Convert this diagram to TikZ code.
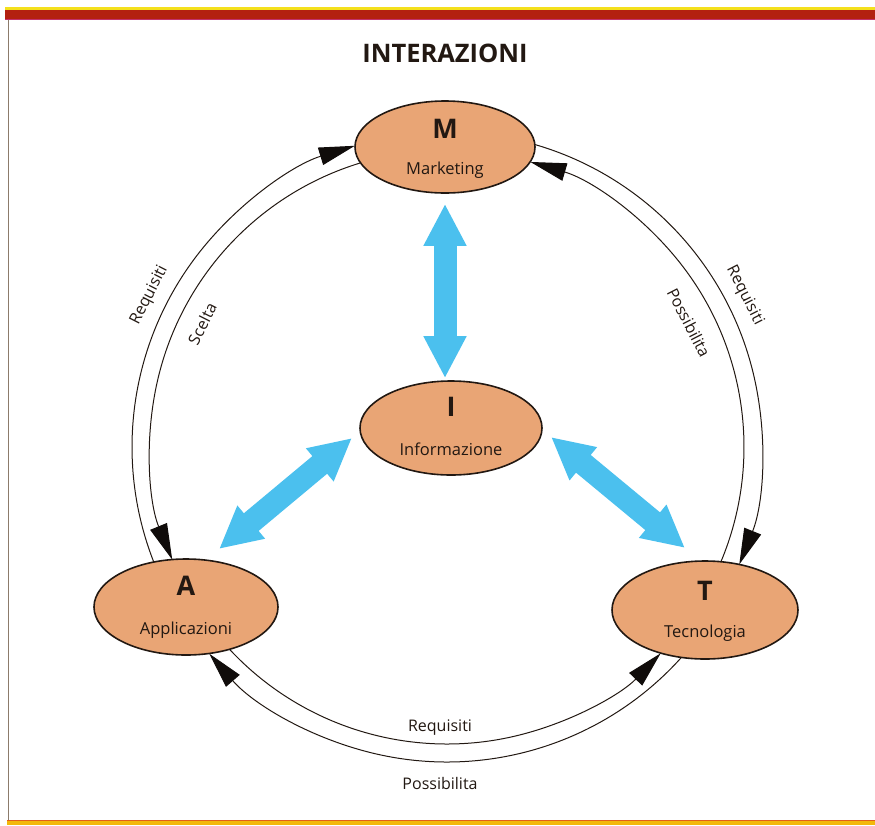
\documentclass[tikz,border=0pt]{standalone}
\usepackage{fontspec}
\setmainfont{Open Sans}
\usetikzlibrary{shapes.geometric,arrows.meta,calc}
\definecolor{bub}{HTML}{E9A575}
\definecolor{ink}{HTML}{221812}
\definecolor{tipcol}{HTML}{100C0A}
\definecolor{sky}{HTML}{4BC0EE}
\definecolor{barred}{HTML}{B3200F}
\definecolor{baryel}{HTML}{F4E01C}
\definecolor{barmag}{HTML}{C2306A}
\definecolor{framecol}{HTML}{8C7B6B}
\definecolor{botbar}{HTML}{F3B80A}
\definecolor{botline}{HTML}{E0601A}
\pgfdeclarelayer{bg}
\pgfsetlayers{bg,main}
\begin{document}
\begin{tikzpicture}[x=1pt,y=1pt,
  bubble/.style={ellipse, draw=ink, line width=1.6pt, fill=bub, inner sep=0pt},
  letter/.style={font=\fontsize{27}{27}\selectfont\bfseries, text=ink, inner sep=0pt, anchor=base},
  sub/.style={font=\fontsize{16.5}{17}\selectfont, text=ink, inner sep=0pt, anchor=base},
  arclab/.style={font=\fontsize{16}{16}\selectfont, text=ink, inner sep=0pt},
  flow/.style={draw=ink, line width=1pt, -{Triangle[length=36pt,width=18pt,color=tipcol]}},
  fat/.style={draw=sky, line width=23pt, {Triangle[length=42pt,width=40pt]}-{Triangle[length=42pt,width=40pt]}}
]
\useasboundingbox (0,0) rectangle (875,-825);
% frame and bars
\fill[baryel] (5,-7) rectangle (875,-9.5);
\fill[barred] (5,-9.5) rectangle (875,-19);
\fill[barmag] (5,-19) rectangle (875,-20.3);
\draw[framecol, line width=1.6pt] (8.5,-20) -- (8.5,-821);
\fill[botline] (7,-820) rectangle (875,-821.3);
\fill[botbar] (7,-821.3) rectangle (875,-825);
% title
\node[anchor=base, font=\fontsize{25.5}{26}\selectfont\bfseries, text=ink, inner sep=0pt] (title) at (445,-62) {INTERAZIONI};
% centre of the ring
\coordinate (c) at (447,-447);
% nodes
\node[bubble, minimum width=180pt, minimum height=92pt] (M) at (445,-147) {};
\node[bubble, minimum width=182pt, minimum height=94pt] (I) at (451,-428) {};
\node[bubble, minimum width=184pt, minimum height=96pt] (A) at (186,-607) {};
\node[bubble, minimum width=186pt, minimum height=98pt] (T) at (705,-610) {};
\node[letter] (Ml) at ($(M.center)+(0,9)$) {M};
\node[sub] (Mt) at ($(M.center)+(0,-27)$) {Marketing};
\node[letter] (Il) at ($(I.center)+(0,12)$) {I};
\node[sub] (It) at ($(I.center)+(0,-27)$) {Informazione};
\node[letter] (Al) at ($(A.center)+(0,12)$) {A};
\node[sub] (At) at ($(A.center)+(0,-27)$) {Applicazioni};
\node[letter] (Tl) at ($(T.center)+(0,10)$) {T};
\node[sub] (Tt) at ($(T.center)+(0,-27)$) {Tecnologia};
% blue fat arrows
\coordinate (ia1) at (352,-438);
\coordinate (ia2) at (219,-549);
\coordinate (it1) at (551,-437);
\coordinate (it2) at (685,-548);
\draw[fat, shorten <=10pt, shorten >=2pt] (M.south) -- (M.south |- I.north);
\draw[fat] (ia1) -- (ia2);
\draw[fat] (it1) -- (it2);
% ring connectors
\begin{pgfonlayer}{bg}
\draw[flow] ($(c)+(201.5:315)$) arc[start angle=201.5, end angle=107, radius=315];
\draw[flow] ($(c)+(107:297)$) arc[start angle=107, end angle=202.3, radius=297];
\draw[flow] ($(c)+(73.8:315)$) arc[start angle=73.8, end angle=-21.9, radius=315];
\draw[flow] ($(c)+(-22.7:297)$) arc[start angle=-22.7, end angle=73.7, radius=297];
\draw[flow] ($(c)+(223:297)$) arc[start angle=223, end angle=316, radius=297];
\draw[flow] ($(c)+(318:315)$) arc[start angle=318, end angle=221, radius=315];
\end{pgfonlayer}
% ring labels
\node[arclab, rotate=63] (l1) at ($(c)+(153:334)$) {Requisiti};
\node[arclab, rotate=63.3] (l2) at ($(c)+(153.3:274)$) {Scelta};
\node[arclab, rotate=-63] (l3) at ($(c)+(27:334)$) {Requisiti};
\node[arclab, rotate=-62.8] (l4) at ($(c)+(27.2:272)$) {Possibilita};
\node[arclab, anchor=base] (l5) at ($(c)+(-7,-284)$) {Requisiti};
\node[arclab, anchor=base] (l6) at ($(c)+(-7,-342)$) {Possibilita};
\end{tikzpicture}
\end{document}
